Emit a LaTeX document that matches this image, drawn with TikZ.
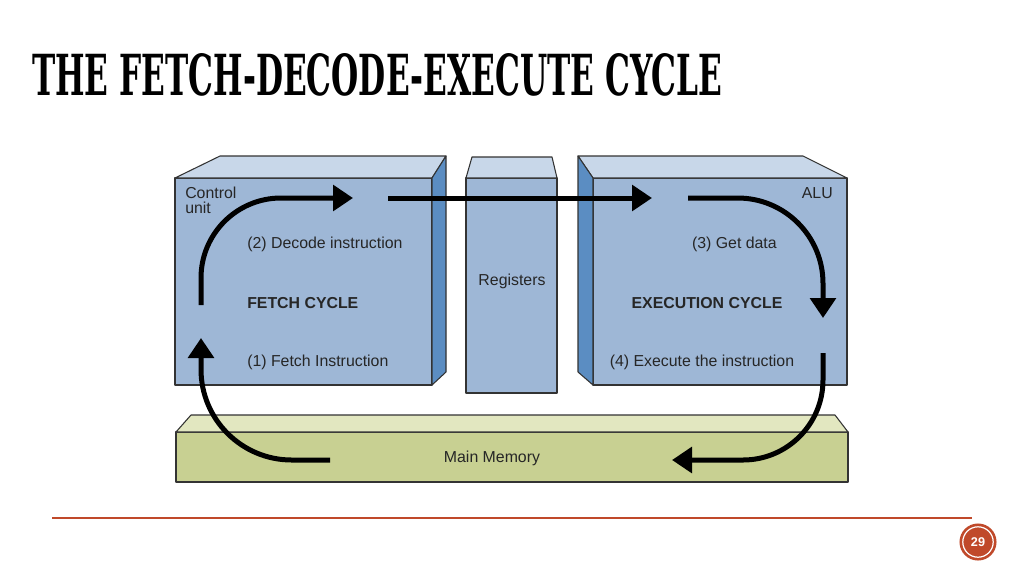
\documentclass[tikz,border=0pt]{standalone}
\usepackage{fontspec}
\usepackage{graphicx}
\setmainfont{Liberation Sans}
\newfontfamily\titlefont{DejaVu Serif Condensed}
\usetikzlibrary{arrows.meta}

\definecolor{frontblue}{HTML}{9EB7D6}
\definecolor{topblue}{HTML}{C8D7E9}
\definecolor{sideblue}{HTML}{5B8DC2}
\definecolor{memfront}{HTML}{C8D092}
\definecolor{memtop}{HTML}{E2E7C0}
\definecolor{accent}{HTML}{C0492A}

\tikzset{
  face/.style={draw=black!80, line width=0.8pt, line join=round},
  txt/.style={font=\fontsize{11.9}{11.2}\selectfont, inner sep=0pt, text=black!85},
  cycle arrow/.style={line width=3.75pt, -{Triangle[length=15pt,width=19pt]}, rounded corners=60pt}
}

\begin{document}
\begin{tikzpicture}[x=0.75pt,y=-0.75pt]
    \useasboundingbox (0,0) rectangle (1024,576);
    \fill[white] (0,0) rectangle (1024,576);

    % title
    \node[anchor=south west, inner sep=0pt] (title) at (32,97)
      {\resizebox{517.5pt}{31.5pt}{\titlefont\bfseries THE FETCH-DECODE-EXECUTE CYCLE}};

    % control unit
    \filldraw[face, fill=frontblue] (175,178) rectangle (432,385);
    \filldraw[face, fill=topblue] (175,178) -- (220,156) -- (446,156) -- (432,178) -- cycle;
    \filldraw[face, fill=sideblue] (432,178) -- (446,156) -- (446,372) -- (432,385) -- cycle;

    % registers
    \filldraw[face, fill=frontblue] (466,178) rectangle (557,393);
    \filldraw[face, fill=topblue] (466,178) -- (472,157) -- (552,157) -- (557,178) -- cycle;

    % ALU
    \filldraw[face, fill=frontblue] (593,178) rectangle (847,385);
    \filldraw[face, fill=topblue] (593,178) -- (578,156) -- (803,156) -- (847,178) -- cycle;
    \filldraw[face, fill=sideblue] (593,178) -- (578,156) -- (578,372) -- (593,385) -- cycle;

    % main memory
    \filldraw[face, fill=memfront] (176,432) rectangle (848,482);
    \filldraw[face, fill=memtop] (176,432) -- (191,415) -- (835,415) -- (848,432) -- cycle;

    % labels
    \node[txt, align=left, anchor=north west] (cu) at (185,187) {Control\\unit};
    \node[txt, anchor=west] (dec) at (247,244) {(2) Decode instruction};
    \node[txt, anchor=west] (fc) at (247,303) {\textbf{FETCH CYCLE}};
    \node[txt, anchor=west] (fi) at (247,362) {(1) Fetch Instruction};
    \node[txt, anchor=east] (alu) at (833,193) {ALU};
    \node[txt, anchor=east] (gd) at (777,244) {(3) Get data};
    \node[txt] (ec) at (707,303) {\textbf{EXECUTION CYCLE}};
    \node[txt] (ex) at (702,362) {(4) Execute the instruction};
    \node[txt] (reg) at (512,281) {Registers};
    \node[txt] (mm) at (492,458) {Main Memory};

    % cycle arrows
    \coordinate (f1) at (201,305);
    \coordinate (f2) at (353,198);
    \coordinate (t1) at (388,198);
    \coordinate (t2) at (652,198);
    \coordinate (e1) at (688,198);
    \coordinate (e2) at (823,318);
    \coordinate (x1) at (823,353);
    \coordinate (x2) at (672,460);
    \coordinate (m1) at (330,460);
    \coordinate (m2) at (201,338);
    \draw[cycle arrow] (f1) |- (f2);
    \draw[cycle arrow] (t1) -- (t2);
    \draw[cycle arrow, rounded corners=64pt] (e1) -| (e2);
    \draw[cycle arrow] (x1) |- (x2);
    \draw[cycle arrow, rounded corners=68pt] (m1) -| (m2);

    % footer
    \draw[accent, line width=0.8pt] (52,518) -- (972,518);
    \fill[accent] (978,542) circle (13.9pt);
    \draw[white, line width=0.9pt] (978,542) circle (11.4pt);
    \node[inner sep=0pt, text=white, font=\fontsize{9.5}{10}\selectfont\bfseries] (page) at (978,542) {29};
\end{tikzpicture}
\end{document}
